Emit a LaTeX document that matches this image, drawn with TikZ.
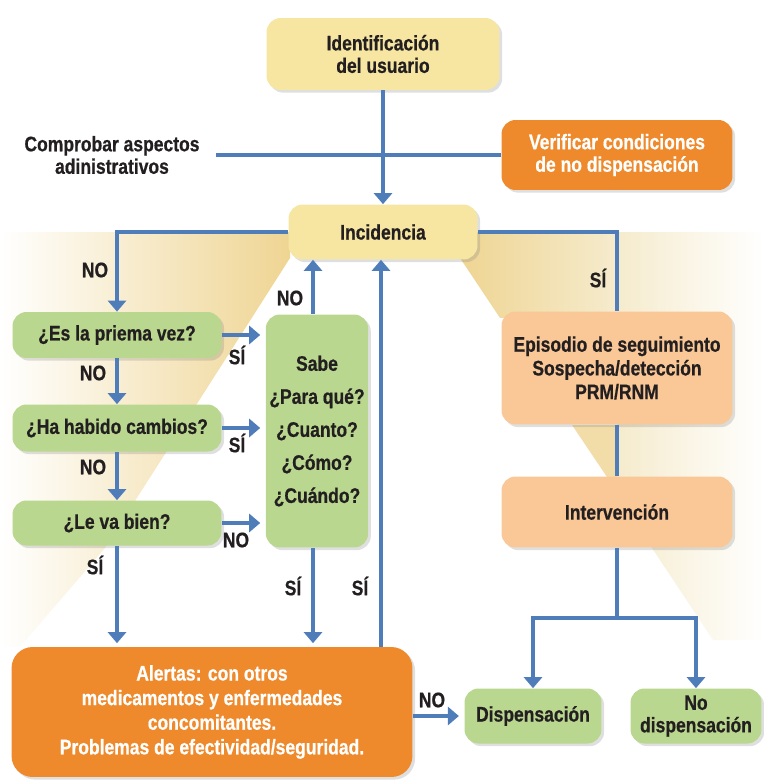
\documentclass[tikz,border=0pt]{standalone}
\usepackage{fontspec}
\setmainfont{Liberation Sans}[FakeStretch=0.83, BoldFeatures={FakeBold=0.6}]
\usepackage{tikz}
\usetikzlibrary{arrows.meta,shadows}

\definecolor{azul}{HTML}{4F7DBA}
\definecolor{amarillo}{HTML}{F6E6A2}
\definecolor{naranja}{HTML}{EE8A2C}
\definecolor{salmon}{HTML}{F9C896}
\definecolor{verde}{HTML}{B9D78E}
\definecolor{tinta}{HTML}{231F20}
\definecolor{fondo}{HTML}{EFD593}
\definecolor{fondoclaro}{HTML}{F5EBCD}

\begin{document}
\begin{tikzpicture}[x=0.02cm,y=-0.02cm,
	>={Triangle[width=0.36cm,length=0.22cm]},
	caja/.style={rounded corners=8pt, align=center, text=tinta, inner sep=2pt,
		font=\fontsize{12}{12.8}\selectfont\bfseries,
		drop shadow={shadow xshift=1.5pt, shadow yshift=-1.5pt, opacity=0.25}},
	linea/.style={azul, line width=2.4pt},
	etiqueta/.style={text=tinta, font=\fontsize{12}{12.8}\selectfont\bfseries}]
	\useasboundingbox (0,0) rectangle (764,781);

	% background funnels
	\shade[left color=white, right color=fondo] (0,232) -- (290,232) -- (290,258)
		-- (105,548) -- (20,647) -- (0,647) -- cycle;
	\shade[left color=fondo, right color=fondoclaro] (460,258) -- (477,232)
		-- (617,232) -- (617,312) -- (500,318) -- cycle;
	\fill[fondo!80] (572,425) -- (617,425) -- (617,477) -- (607,477) -- cycle;
	\shade[left color=fondoclaro, right color=white] (617,232) -- (764,232)
		-- (764,640) -- (713,640) -- (640,530) -- (617,530) -- cycle;

	% boxes
	\node[caja, fill=amarillo, minimum width=4.66cm, minimum height=1.44cm]
		(ident) at (383,54) {Identificación\\del usuario};
	\node[etiqueta, align=center] (compr) at (112,155) {Comprobar aspectos\\adinistrativos};
	\node[caja, fill=naranja, text=white, minimum width=4.62cm, minimum height=1.40cm]
		(verif) at (617,155) {Verificar condiciones\\de no dispensación};
	\node[caja, fill=amarillo, minimum width=3.78cm, minimum height=1.10cm]
		(incid) at (383,232) {Incidencia};

	\node[caja, fill=verde, minimum width=4.18cm, minimum height=0.92cm]
		(q1) at (117,335) {¿Es la priema vez?};
	\node[caja, fill=verde, minimum width=4.18cm, minimum height=0.94cm]
		(q2) at (117,428) {¿Ha habido cambios?};
	\node[caja, fill=verde, minimum width=4.18cm, minimum height=0.90cm]
		(q3) at (117,523) {¿Le va bien?};
	\node[caja, fill=verde, minimum width=2.02cm, minimum height=4.66cm,
		font=\fontsize{12}{18.8}\selectfont\bfseries]
		(sabe) at (317,431) {Sabe\\¿Para qué?\\¿Cuanto?\\¿Cómo?\\¿Cuándo?};

	\node[caja, fill=salmon, minimum width=4.62cm, minimum height=2.26cm,
		font=\fontsize{12}{13.5}\selectfont\bfseries]
		(epis) at (617,368) {Episodio de seguimiento\\Sospecha/detección\\PRM/RNM};
	\node[caja, fill=salmon, minimum width=4.62cm, minimum height=1.42cm]
		(interv) at (617,512) {Intervención};

	\node[caja, fill=naranja, text=white, minimum width=8.02cm, minimum height=2.60cm,
		rounded corners=12pt, font=\fontsize{12}{14}\selectfont\bfseries]
		(alert) at (212,712) {Alertas: con otros\\medicamentos y enfermedades\\concomitantes.\\Problemas de efectividad/seguridad.};
	\node[caja, fill=verde, minimum width=2.74cm, minimum height=1.10cm]
		(disp) at (533,716) {Dispensación};
	\node[caja, fill=verde, minimum width=2.62cm, minimum height=1.10cm]
		(nodisp) at (696,716) {No\\dispensación};

	% connectors
	\draw[linea,->] (ident.south) -- (incid.north);
	\draw[linea] ([xshift=6pt]compr.east) -- (verif.west);
	\draw[linea,->] (incid.west) -| (q1.north);
	\draw[linea] (incid.east) -| (epis.north);
	\draw[linea,->] (q1.south) -- (q2.north);
	\draw[linea,->] (q2.south) -- (q3.north);
	\draw[linea,->,shorten >=2pt] (q3.south) -- (q3.south |- alert.north);
	\draw[linea,->,shorten >=3pt] (q1.east) -- (q1.east -| sabe.west);
	\draw[linea,->,shorten >=3pt] (q2.east) -- (q2.east -| sabe.west);
	\draw[linea,->,shorten >=3pt] (q3.east) -- (q3.east -| sabe.west);
	\draw[linea,->] ([xshift=-0.08cm]sabe.north) -- ([xshift=-0.08cm]sabe.north |- incid.south);
	\draw[linea,->,shorten >=2pt] ([xshift=-0.08cm]sabe.south) -- ([xshift=-0.08cm]sabe.south |- alert.north);
	\draw[linea,->] ([xshift=-0.04cm]incid.south |- alert.north) -- ([xshift=-0.04cm]incid.south);
	\draw[linea,->,shorten >=3pt] (alert.east |- disp.west) -- (disp.west);
	\draw[linea] (epis.south) -- (interv.north);
	\coordinate (rama) at (617,618);
	\draw[linea] (interv.south) -- (rama);
	\draw[linea,->] (rama) -| (disp.north);
	\draw[linea,->] (rama) -| (nodisp.north);

	% labels
	\node[etiqueta] (l1) at (95,270) {NO};
	\node[etiqueta] (l2) at (598,278) {SÍ};
	\node[etiqueta] (l3) at (93,373) {NO};
	\node[etiqueta] (l4) at (93,467) {NO};
	\node[etiqueta] (l5) at (95,565) {SÍ};
	\node[etiqueta] (l6) at (237,355) {SÍ};
	\node[etiqueta] (l7) at (237,443) {SÍ};
	\node[etiqueta] (l8) at (236,540) {NO};
	\node[etiqueta] (l9) at (290,298) {NO};
	\node[etiqueta] (l10) at (293,586) {SÍ};
	\node[etiqueta] (l11) at (360,586) {SÍ};
	\node[etiqueta] (l12) at (432,700) {NO};
\end{tikzpicture}
\end{document}
